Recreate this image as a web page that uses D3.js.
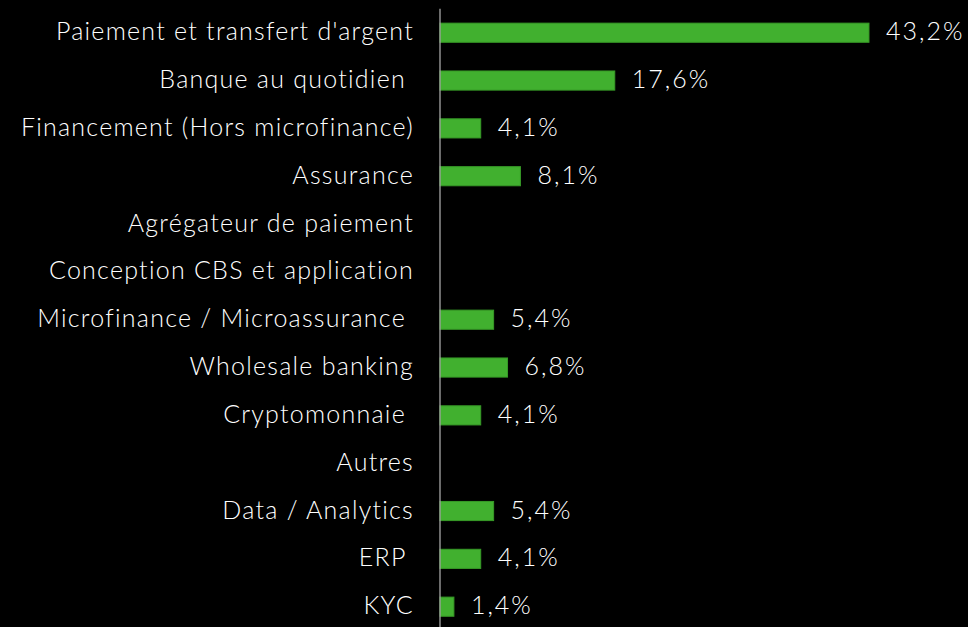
<!DOCTYPE html>
<html>
<head>
<meta charset="utf-8">
<script src="https://cdn.jsdelivr.net/npm/d3@7"></script>
<style>
  html, body { margin: 0; padding: 0; background: #000; }
  svg { display: block; }
  .labels { fill: #fff; font-family: Lato, sans-serif; font-weight: 300; font-size: 25px; letter-spacing: 1.25px; white-space: pre; }
  .valeurs { fill: #fff; font-family: Lato, sans-serif; font-weight: 300; font-size: 25px; letter-spacing: 2px; }
</style>
</head>
<body>
<div id="graf"></div>
<script>
const categories = [
  "Paiement et transfert d'argent",
  "Banque au quotidien ",
  "Financement (Hors microfinance)",
  "Assurance",
  "Agrégateur de paiement",
  "Conception CBS et application",
  "Microfinance / Microassurance ",
  "Wholesale banking",
  "Cryptomonnaie ",
  "Autres",
  "Data / Analytics",
  "ERP ",
  "KYC"
]
const valeurs = [43.2, 17.6, 4.1, 8.1, null, null, 5.4, 6.8, 4.1, null, 5.4, 4.1, 1.4]

const anchoTotal = 968
const altoTotal = 627

const svg = d3.select("#graf")
  .append("svg")
  .attr("width", anchoTotal)
  .attr("height", altoTotal)

svg.append("rect")
  .attr("width", anchoTotal)
  .attr("height", altoTotal)
  .attr("fill", "#000")

const x = d3.scaleLinear().domain([0, 50]).range([440, 440 + 50 * 9.93])
const y = d3.scaleBand()
  .domain(categories)
  .range([8.8, 630.6])
  .paddingInner(0.6)
  .paddingOuter(0.3)

const data = categories.map((c, i) => ({ cat: c, val: valeurs[i] }))

// barres
svg.selectAll("rect.barre")
  .data(data.filter((d) => d.val != null))
  .enter()
  .append("rect")
  .attr("class", "barre")
  .attr("x", x(0))
  .attr("y", (d) => y(d.cat))
  .attr("width", (d) => x(d.val) - x(0))
  .attr("height", y.bandwidth())
  .attr("fill", "#41b02f")
  .attr("stroke", "#379a27")
  .attr("stroke-width", 1)

// axe vertical
svg.append("line")
  .attr("x1", x(0))
  .attr("x2", x(0))
  .attr("y1", 8.8)
  .attr("y2", altoTotal)
  .attr("stroke", "#a6a6a6")
  .attr("stroke-width", 1.3)

// libellés (l'espace final de letter-spacing est compensé)
svg.selectAll("text.labels")
  .data(data)
  .enter()
  .append("text")
  .attr("class", "labels")
  .attr("x", 414)
  .attr("y", (d) => y(d.cat) + y.bandwidth() / 2)
  .attr("dy", "0.3em")
  .attr("text-anchor", "end")
  .text((d) => d.cat)

// valeurs
svg.selectAll("text.valeurs")
  .data(data.filter((d) => d.val != null))
  .enter()
  .append("text")
  .attr("class", "valeurs")
  .attr("x", (d) => x(d.val) + 17)
  .attr("y", (d) => y(d.cat) + y.bandwidth() / 2)
  .attr("dy", "0.3em")
  .text((d) => d.val.toFixed(1).replace(".", ",") + "%")
</script>
</body>
</html>
